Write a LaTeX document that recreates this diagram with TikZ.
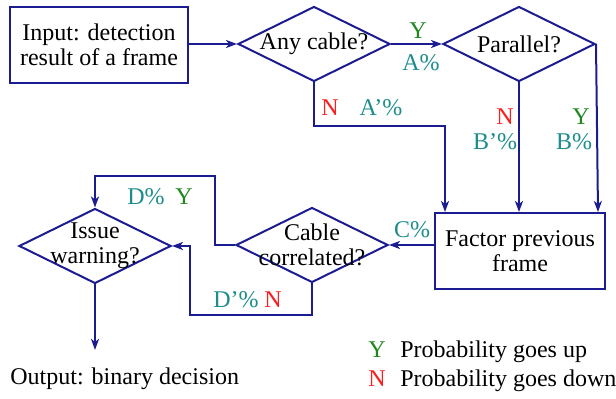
\documentclass[tikz,border=0pt]{standalone}
\usepackage{fontspec}
\setmainfont{Liberation Serif}
\usetikzlibrary{arrows.meta, shapes.geometric}

\definecolor{flow}{RGB}{28,28,145}
\definecolor{prob}{RGB}{30,140,140}
\definecolor{yes}{RGB}{30,135,30}
\definecolor{no}{RGB}{250,30,30}

\tikzset{
    box/.style={draw=flow, line width=1pt, minimum width=#1, minimum height=38pt, align=center},
    decision/.style={diamond, draw=flow, line width=1pt, minimum width=76pt, minimum height=37.5pt, inner sep=0pt},
    flowline/.style={draw=flow, line width=1pt, ->},
    pct/.style={text=prob},
    ylab/.style={text=yes},
    nlab/.style={text=no},
    txt/.style={anchor=base west, inner sep=0pt},
}

\begin{document}
\begin{tikzpicture}[x=0.5pt, y=-0.5pt, >={Stealth[length=5.5pt, width=4pt, inset=1.5pt]},
    font=\fontsize{12}{12.5}\selectfont]
    \useasboundingbox (0,0) rectangle (616,399);

    % top row
    \node[box=89pt] (input) at (99,45) {Input: detection\\result of a frame};
    \node[decision, label={center:Any cable?}] (cable) at (314,44) {};
    \node[decision, label={center:Parallel?}] (par) at (519,44) {};

    % middle row
    \node[box=85pt] (factor) at (520,251) {Factor previous\\frame};
    \node[decision, label={[align=center]center:Cable\\correlated?}] (corr) at (312,245) {};
    \node[decision, label={[align=center]center:Issue\\warning?}] (warn) at (95,246) {};

    % output and key
    \node[txt, inner ysep=9pt] (output) at (10,385) {Output: binary decision};
    \node[txt, ylab] (keyY) at (368,358) {Y};
    \node[txt] (keyYtxt) at (400,358) {Probability goes up};
    \node[txt, nlab] (keyN) at (368,387) {N};
    \node[txt] (keyNtxt) at (400,387) {Probability goes down};

    % connectors
    \draw[flowline] (input.east |- cable.west) -- (cable.west);
    \draw[flowline] (cable.east) -- (par.west);
    \draw[flowline] (cable.south) |- (445,126) -- (445,126 |- factor.north);
    \draw[flowline] (par.south) -- (par.south |- factor.north);
    \draw[flowline] (par.east) -- ([xshift=1pt]par.east |- factor.north);
    \draw[flowline] (corr.east -| factor.west) -- (corr.east);
    \draw[flowline] (corr.west) -- ++(-10pt,0) |- ([yshift=15.5pt]warn.north) -- (warn.north);
    \draw[flowline] (corr.south) -- ++(0,-16pt) -| ([xshift=9pt]warn.east) -- (warn.east);
    \draw[flowline] (warn.south) -- (warn.south |- output.north);

    % probabilities
    \node[ylab] (yA) at (418,31) {Y};
    \node[pct] (pA) at (421,63) {A\%};
    \node[nlab] (nA) at (330,108) {N};
    \node[pct] (pA2) at (381,108) {A'\%};
    \node[nlab] (nB) at (505,117) {N};
    \node[pct] (pB2) at (495,142) {B'\%};
    \node[ylab] (yB) at (581,117) {Y};
    \node[pct] (pB) at (574,142) {B\%};
    \node[pct] (pC) at (412,230) {C\%};
    \node[pct] (pD) at (146,197) {D\%};
    \node[ylab] (yD) at (184,197) {Y};
    \node[pct] (pD2) at (236,300) {D'\%};
    \node[nlab] (nD) at (273,300) {N};
\end{tikzpicture}
\end{document}
